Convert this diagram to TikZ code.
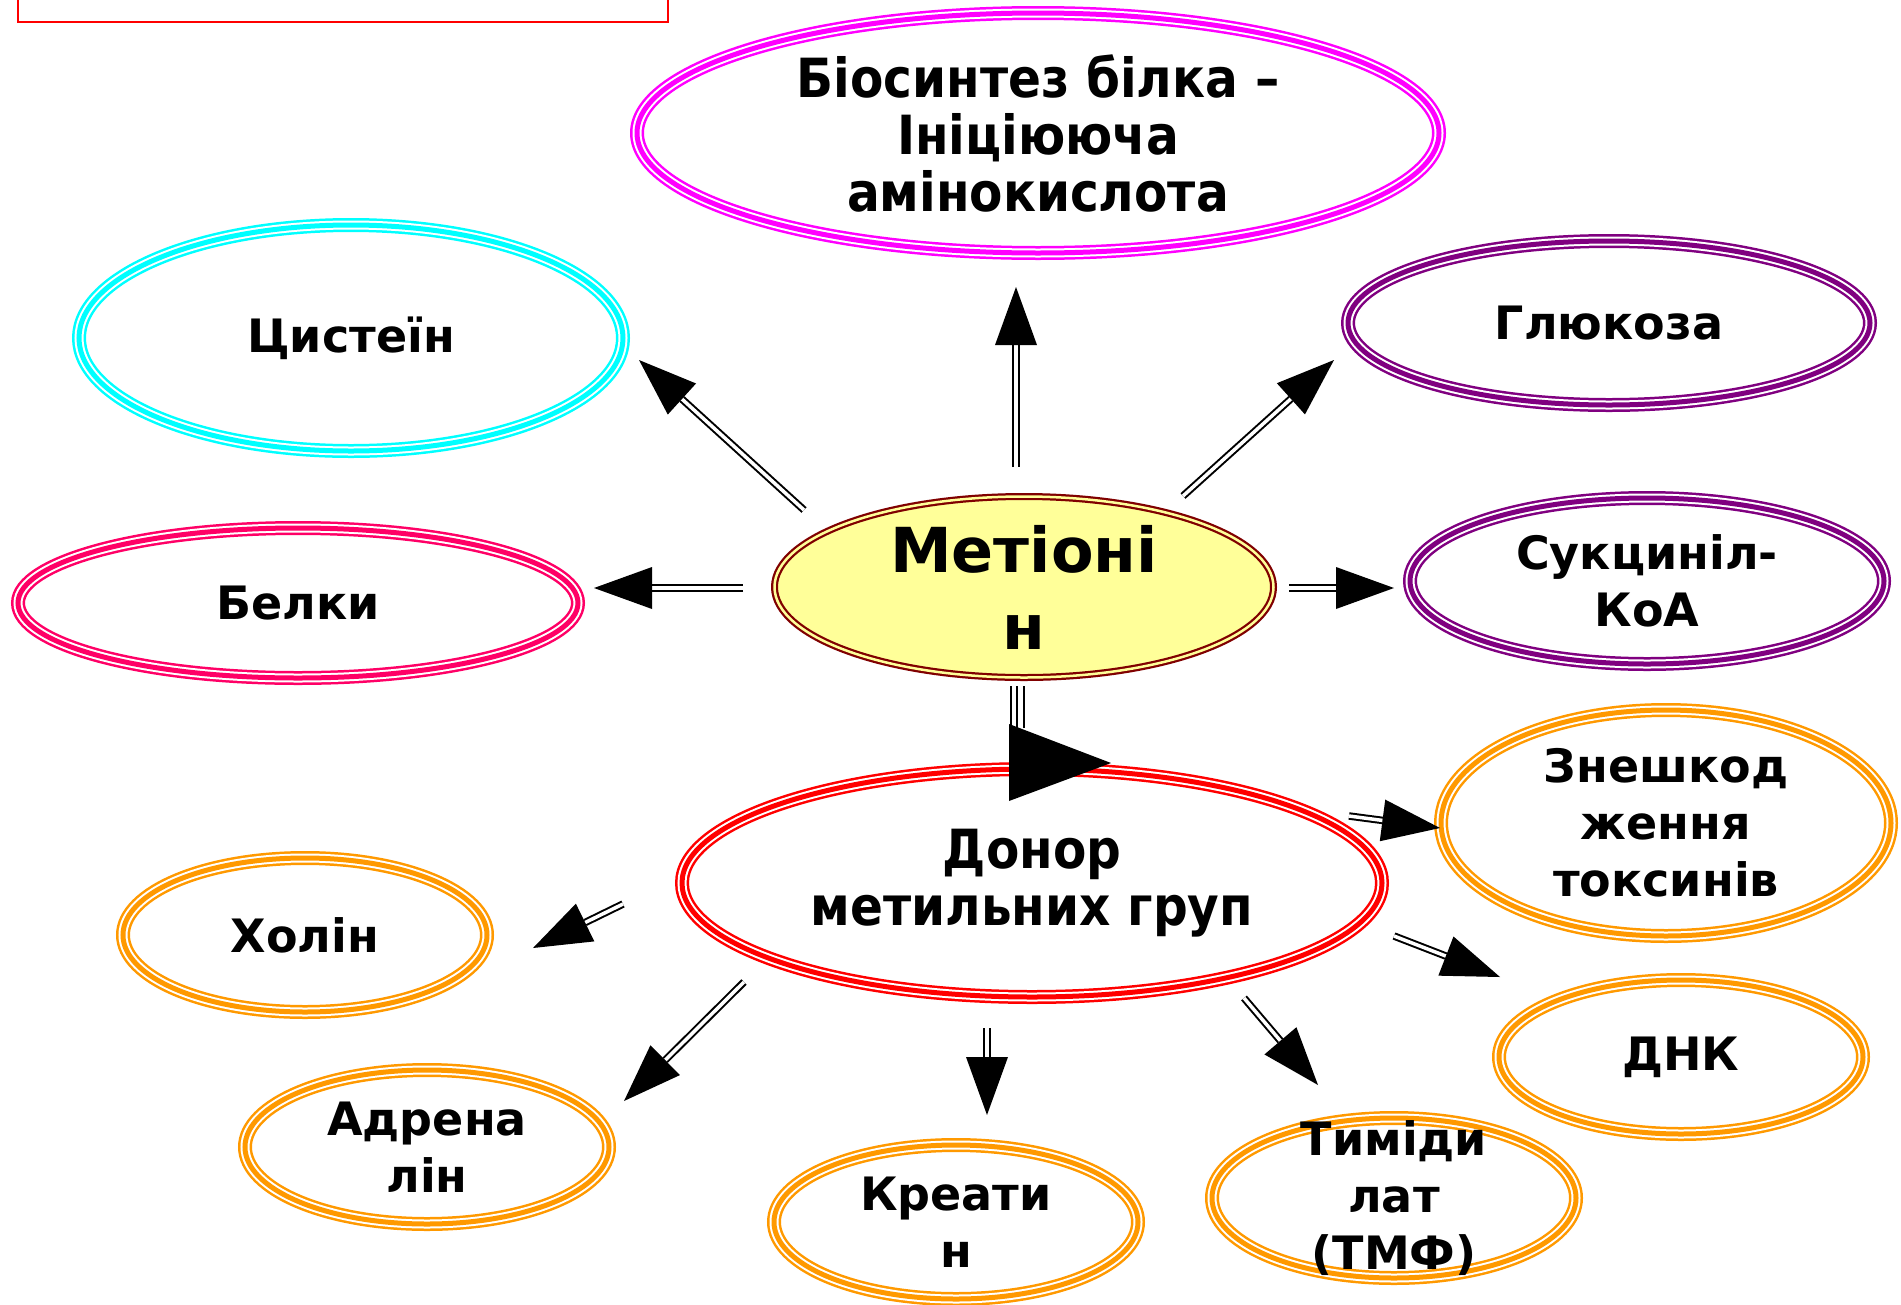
\documentclass[tikz,border=0pt]{standalone}
\usepackage{fontspec}
\setmainfont{DejaVu Sans}
\newfontfamily\condfont{DejaVu Sans Condensed}
\usetikzlibrary{shapes.geometric,arrows.meta}
\definecolor{cmag}{HTML}{FF00FF}
\definecolor{ccyan}{HTML}{00FFFF}
\definecolor{cpurp}{HTML}{800080}
\definecolor{cpink}{HTML}{FF0066}
\definecolor{cred}{HTML}{FF0000}
\definecolor{corange}{HTML}{FF9900}
\definecolor{cdred}{HTML}{800000}
\definecolor{cyel}{HTML}{FFFF99}
\tikzset{
  oval/.style={shape=ellipse, inner sep=0pt},
  triple/.style={draw=#1, line width=14pt,
     postaction={draw=white, line width=9pt},
     postaction={draw=#1, line width=5pt}},
  dbl/.style={draw=#1, line width=7pt, postaction={draw=cyel, line width=2.5pt}},
  lbl/.style={align=center, inner sep=0pt, font=\bfseries\fontsize{46}{57}\selectfont},
  clbl/.style={align=center, inner sep=0pt, font=\condfont\bfseries\fontsize{54}{57}\selectfont},
  biglbl/.style={align=center, inner sep=0pt, font=\bfseries\fontsize{62}{77}\selectfont},
  arr/.style={draw=black, line width=2pt, double=white, double distance=3.5pt,
     -{Triangle[length=58pt,width=42pt,line width=0pt]}},
}
\begin{document}
\begin{tikzpicture}[x=1pt,y=-1pt]
\useasboundingbox (0,0) rectangle (1901,1304);
% top-left frame
\draw[cred, line width=2pt] (18,-20) rectangle (668,22);
% ellipses
\node[oval, triple=cmag, minimum width=802pt, minimum height=240pt] (bio) at (1038,133) {};
\node[oval, triple=ccyan, minimum width=544pt, minimum height=226pt] (cys) at (351,338) {};
\node[oval, triple=cpurp, minimum width=522pt, minimum height=164pt] (glu) at (1609,323) {};
\node[oval, triple=cpurp, minimum width=474pt, minimum height=166pt] (suc) at (1647,581) {};
\node[oval, triple=cpink, minimum width=560pt, minimum height=150pt] (bel) at (298,603) {};
\node[oval, fill=cyel, dbl=cdred, minimum width=499pt, minimum height=181pt] (met) at (1024,587) {};
\node[oval, triple=cred, minimum width=700pt, minimum height=228pt] (don) at (1032,883) {};
\node[oval, triple=corange, minimum width=450pt, minimum height=226pt] (zne) at (1666,823) {};
\node[oval, triple=corange, minimum width=364pt, minimum height=154pt] (hol) at (305,935) {};
\node[oval, triple=corange, minimum width=364pt, minimum height=154pt] (dnk) at (1681,1057) {};
\node[oval, triple=corange, minimum width=364pt, minimum height=154pt] (adr) at (427,1147) {};
\node[oval, triple=corange, minimum width=364pt, minimum height=154pt] (kre) at (956,1222) {};
\node[oval, triple=corange, minimum width=364pt, minimum height=160pt] (tim) at (1394,1198) {};
% labels
\node[clbl] (tbio) at (bio.center) {Біосинтез білка –\\Ініціююча\\амінокислота};
\node[lbl] (tcys) at (cys.center) {Цистеїн};
\node[lbl] (tglu) at (glu.center) {Глюкоза};
\node[lbl] (tsuc) at (suc.center) {Сукциніл-\\КоА};
\node[lbl] (tbel) at (bel.center) {Белки};
\node[biglbl] (tmet) at (met.center) {Метіоні\\н};
\node[clbl] (tdon) at (don.center) {Донор\\метильних груп};
\node[lbl] (tzne) at (zne.center) {Знешкод\\ження\\токсинів};
\node[lbl] (thol) at (hol.center) {Холін};
\node[lbl] (tdnk) at (dnk.center) {ДНК};
\node[lbl] (tadr) at (adr.center) {Адрена\\лін};
\node[lbl] (tkre) at (kre.center) {Креати\\н};
\node[lbl] (ttim) at (tim.center) {Тиміди\\лат\\(ТМФ)};
% arrow end points
\coordinate (a1s) at (1016,467); \coordinate (a1e) at (1016,287);
\coordinate (a2s) at (804,510);  \coordinate (a2e) at (639,360);
\coordinate (a3s) at (1183,496); \coordinate (a3e) at (1334,360);
\coordinate (a4s) at (743,588);  \coordinate (a4e) at (594,588);
\coordinate (a5s) at (1289,588); \coordinate (a5e) at (1394,588);
\coordinate (a7s) at (1349,816); \coordinate (a7e) at (1440,828);
\coordinate (a8s) at (1394,936); \coordinate (a8e) at (1500,977);
\coordinate (a9s) at (1244,998); \coordinate (a9e) at (1318,1085);
\coordinate (a10s) at (987,1028); \coordinate (a10e) at (987,1115);
\coordinate (a11s) at (744,982); \coordinate (a11e) at (624,1101);
\coordinate (a12s) at (623,904); \coordinate (a12e) at (533,948);
\coordinate (md1) at (1017,686); \coordinate (md2) at (1017,728);
% arrows
\foreach \i in {1,2,3,4,5,7,8,9,10,11,12}{\draw[arr] (a\i s) -- (a\i e);}
% odd arrow from methionine to donor
\draw[line width=15pt, postaction={draw=white, line width=11pt}, postaction={draw=black, line width=1.8pt}] (md1) -- (md2);
\fill[black] (md2) ++(-8,-4) -- ++(0,77) -- ++(102,-38) -- cycle;
\end{tikzpicture}
\end{document}
